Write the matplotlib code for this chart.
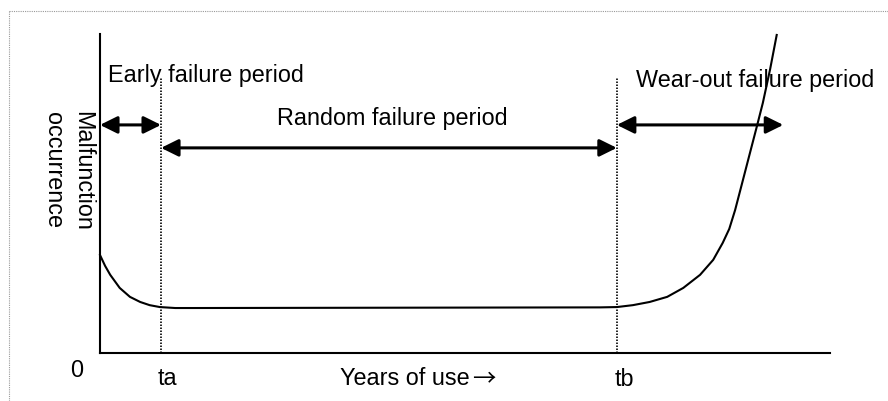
import matplotlib
matplotlib.use("Agg")
import matplotlib.pyplot as plt
from matplotlib.lines import Line2D

plt.rcParams['font.family'] = ['Liberation Sans', 'DejaVu Sans']

# bathtub curve (x: years of use, y: malfunction occurrence)
curve_x = [0, 0.07, 0.14, 0.27, 0.41, 0.55, 0.68, 0.82, 1.03, 1.30,
           6.85, 7.08, 7.30, 7.53, 7.77, 7.99, 8.22, 8.40, 8.53, 8.62,
           8.70, 8.79, 8.90, 9.00, 9.08, 9.18, 9.27]
curve_y = [3.07, 2.73, 2.45, 2.04, 1.76, 1.60, 1.50, 1.44, 1.41, 1.41,
           1.43, 1.44, 1.50, 1.60, 1.76, 2.04, 2.45, 2.92, 3.45, 3.89,
           4.48, 5.27, 6.24, 7.12, 7.84, 8.90, 9.97]

ta = 0.836
tb = 7.08
wear_end = 9.36

periods = ["Early failure period", "Random failure period", "Wear-out failure period"]
marks = ["0", "ta", "tb"]
xlabel = "Years of use"
ylabel = ["Malfunction", "occurrence"]

fs = 16.8

fig = plt.figure(figsize=(8.88, 4.01), dpi=100)
ax = fig.add_axes([100 / 888, 48 / 401, 730 / 888, 319 / 401])
ax.set_xlim(0, 10)
ax.set_ylim(0, 10)
for s in ["top", "right"]:
    ax.spines[s].set_visible(False)
for s in ["left", "bottom"]:
    ax.spines[s].set_linewidth(1.5)
ax.set_xticks([])
ax.set_yticks([])

ax.plot(curve_x, curve_y, color="black", lw=1.5, clip_on=False,
        solid_joinstyle="round")

# period boundaries
for t in [ta, tb]:
    ax.plot([t, t], [0, 8.62], color="black", lw=1.2, ls=(0, (0.9, 0.9)), clip_on=False)

def arrow(x0, x1, y):
    ax.annotate("", xy=(x1, y), xytext=(x0, y),
                arrowprops=dict(arrowstyle="<|-|>,head_length=10.5,head_width=5.2",
                                mutation_scale=1, lw=2.2, color="black",
                                shrinkA=0, shrinkB=0),
                annotation_clip=False)

arrow(0, ta, 7.15)
arrow(ta, tb, 6.43)
arrow(tb, wear_end, 7.15)

ax.text(0.11, 8.50, periods[0], fontsize=fs, va="baseline", ha="left")
ax.text(4.0, 7.15, periods[1], fontsize=fs, va="baseline", ha="center")
ax.text(7.34, 8.34, periods[2], fontsize=fs, va="baseline", ha="left")

ax.text(-0.315, -0.75, marks[0], fontsize=fs, va="baseline", ha="center")
ax.text(0.918, -1.0, marks[1], fontsize=fs, va="baseline", ha="center")
ax.text(7.18, -1.03, marks[2], fontsize=fs, va="baseline", ha="center")
ax.text(3.29, -1.0, xlabel, fontsize=fs, va="baseline", ha="left")
ax.text(5.10, -1.0, "→", fontsize=fs, va="baseline", ha="left",
        family=["Noto Sans CJK JP", "DejaVu Sans"])

ax.text(-0.329, 5.71, ylabel[0], fontsize=fs, rotation=270, rotation_mode="anchor",
        va="baseline", ha="center")
ax.text(-0.726, 5.74, ylabel[1], fontsize=fs, rotation=270, rotation_mode="anchor",
        va="baseline", ha="center")

# dotted frame around the figure (top and left edges visible)
fig.add_artist(Line2D([9 / 888, 1], [390 / 401, 390 / 401], transform=fig.transFigure,
                      color="#999999", lw=0.8, ls=(0, (1, 1))))
fig.add_artist(Line2D([9 / 888, 9 / 888], [0, 390 / 401], transform=fig.transFigure,
                      color="#999999", lw=0.8, ls=(0, (1, 1))))

fig.savefig("out.png", dpi=100)
